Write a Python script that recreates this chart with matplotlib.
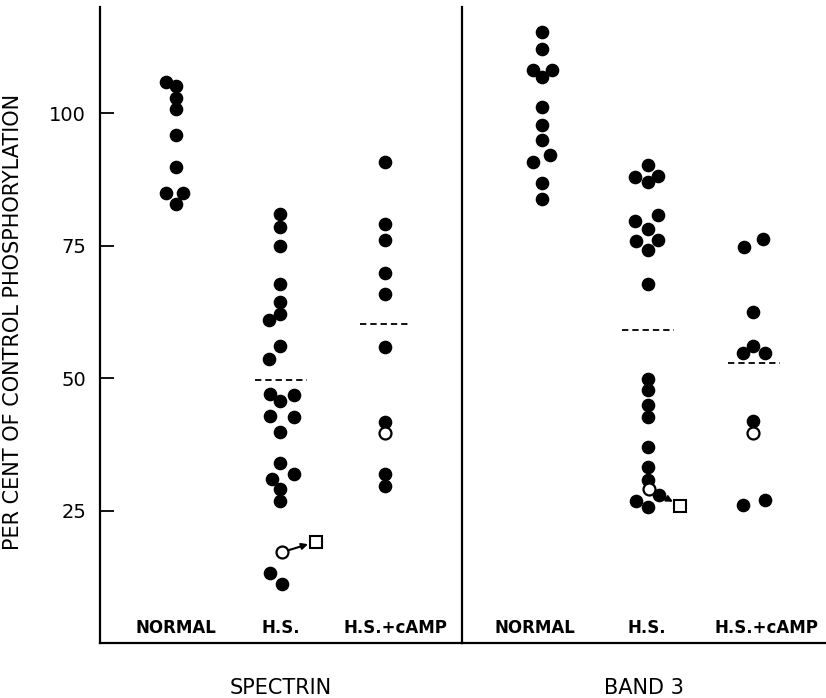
import numpy as np
import matplotlib.pyplot as plt

# --- Data (per cent of control phosphorylation) ---
groups = ["NORMAL", "H.S.", "H.S.+cAMP"]

# spectrin
spec_normal = [105.9, 105.1, 102.8, 100.7, 95.9, 89.9, 85.0, 85.0, 82.9]
spec_normal_dx = [-0.10, 0.0, 0.0, 0.0, 0.0, 0.0, -0.10, 0.07, 0.0]
spec_hs = [81.0, 78.5, 75.0, 67.7, 64.3, 62.1, 60.9, 56.1, 53.6, 46.9, 45.6, 46.7,
           42.8, 42.6, 39.8, 34.0, 31.0, 31.8, 29.0, 26.7, 13.3, 11.1]
spec_hs_dx = [0.0, 0.0, 0.0, 0.0, 0.0, 0.0, -0.11, 0.0, -0.11, -0.10, 0.0, 0.13,
              -0.10, 0.13, 0.0, 0.0, -0.08, 0.13, 0.0, 0.0, -0.10, 0.01]
spec_camp = [90.7, 79.1, 76.0, 69.9, 65.8, 55.9, 41.7, 31.8, 29.6]
spec_camp_dx = [0.0] * len(spec_camp)
spec_open = [17.1, 39.7]          # open circles (H.S., H.S.+cAMP)
spec_open_dx = [0.01, 0.0]
spec_square = 19.1                # square the H.S. open circle moves to
spec_square_dx = 0.34
spec_means = [49.6, 60.1]         # dashed means for H.S. and H.S.+cAMP

# band 3
band_normal = [115.3, 112.1, 108.1, 108.2, 106.7, 101.1, 97.8, 95.0, 92.1, 90.8, 86.8, 83.7]
band_normal_dx = [0.0, 0.0, -0.09, 0.09, 0.0, 0.0, 0.0, 0.0, 0.08, -0.09, 0.0, 0.0]
band_hs = [90.2, 88.0, 88.2, 87.0, 80.8, 79.7, 78.1, 75.8, 76.0, 74.2, 67.8,
           49.9, 47.7, 44.9, 42.7, 37.0, 33.3, 30.8, 27.9, 26.7, 25.7]
band_hs_dx = [0.0, -0.12, 0.10, 0.0, 0.10, -0.12, 0.0, -0.11, 0.10, 0.0, 0.0,
              0.0, 0.0, 0.0, 0.0, 0.0, 0.0, 0.0, 0.11, -0.11, 0.0]
band_camp = [76.2, 74.7, 62.5, 54.7, 56.0, 54.7, 41.9, 26.0, 27.0]
band_camp_dx = [0.09, -0.09, 0.0, -0.10, 0.0, 0.11, 0.0, -0.10, 0.11]
band_open = [29.1, 39.7]
band_open_dx = [0.01, 0.0]
band_square = 25.9
band_square_dx = 0.31
band_means = [59.0, 52.9]

W, H = 826, 698
fig = plt.figure(figsize=(W / 100, H / 100), dpi=100)
bot, top = 55 / H, 636 / H
ax1 = fig.add_axes([100 / W, bot, 362 / W, top])
ax2 = fig.add_axes([462 / W, bot, 364 / W, top])


def draw_panel(ax, sets, opens, open_dx, sq, sq_dx, means, title, xlim, label_x):
    for i, (vals, dx) in enumerate(sets):
        xs = np.array(dx) + i + 1
        ax.plot(xs, vals, 'o', color='black', ms=8.8, mec='black')
    ox = np.array(open_dx) + [2, 3]
    ax.plot(ox, opens, 'o', mfc='white', mec='black', mew=1.6, ms=8.6, zorder=4)
    ax.plot(2 + sq_dx, sq, 's', mfc='white', mec='black', mew=1.5, ms=8.8, zorder=4)
    ax.annotate('', xy=(2 + sq_dx, sq), xytext=(ox[0], opens[0]),
                arrowprops=dict(arrowstyle='-|>', color='black', lw=1.5,
                                shrinkA=5, shrinkB=6, mutation_scale=9))
    for i, m in enumerate(means):
        ax.plot([i + 2 - 0.24, i + 2 + 0.25], [m, m], color='black',
                ls=(0, (3.5, 2.2)), lw=1.3)
    for x, g in zip(label_x, groups):
        ax.text(x, 2.8, g, ha='center', va='center', fontsize=12, fontweight='bold')
    ax.text(0.5, -0.07, title, transform=ax.transAxes, ha='center', va='center',
            fontsize=15)
    ax.set_xlim(*xlim)
    ax.set_ylim(0, 120)
    ax.set_xticks([])
    for s in ['top', 'right']:
        ax.spines[s].set_visible(False)
    for s in ['left', 'bottom']:
        ax.spines[s].set_linewidth(1.6)


draw_panel(ax1, [(spec_normal, spec_normal_dx), (spec_hs, spec_hs_dx), (spec_camp, spec_camp_dx)],
           spec_open, spec_open_dx, spec_square, spec_square_dx, spec_means,
           "SPECTRIN", (0.273, 3.737), [1.0, 2.0, 3.1])
draw_panel(ax2, [(band_normal, band_normal_dx), (band_hs, band_hs_dx), (band_camp, band_camp_dx)],
           band_open, band_open_dx, band_square, band_square_dx, band_means,
           "BAND 3", (0.242, 3.69), [0.93, 1.99, 3.13])

ax1.set_yticks([25, 50, 75, 100])
ax1.tick_params(axis='y', direction='in', length=10, width=1.3, labelsize=14, pad=10)
ax1.set_ylabel("PER CENT OF CONTROL PHOSPHORYLATION", fontsize=15)
ax1.yaxis.set_label_coords(-0.213, 0.505)
ax2.set_yticks([])

fig.savefig("out.png", dpi=100)
